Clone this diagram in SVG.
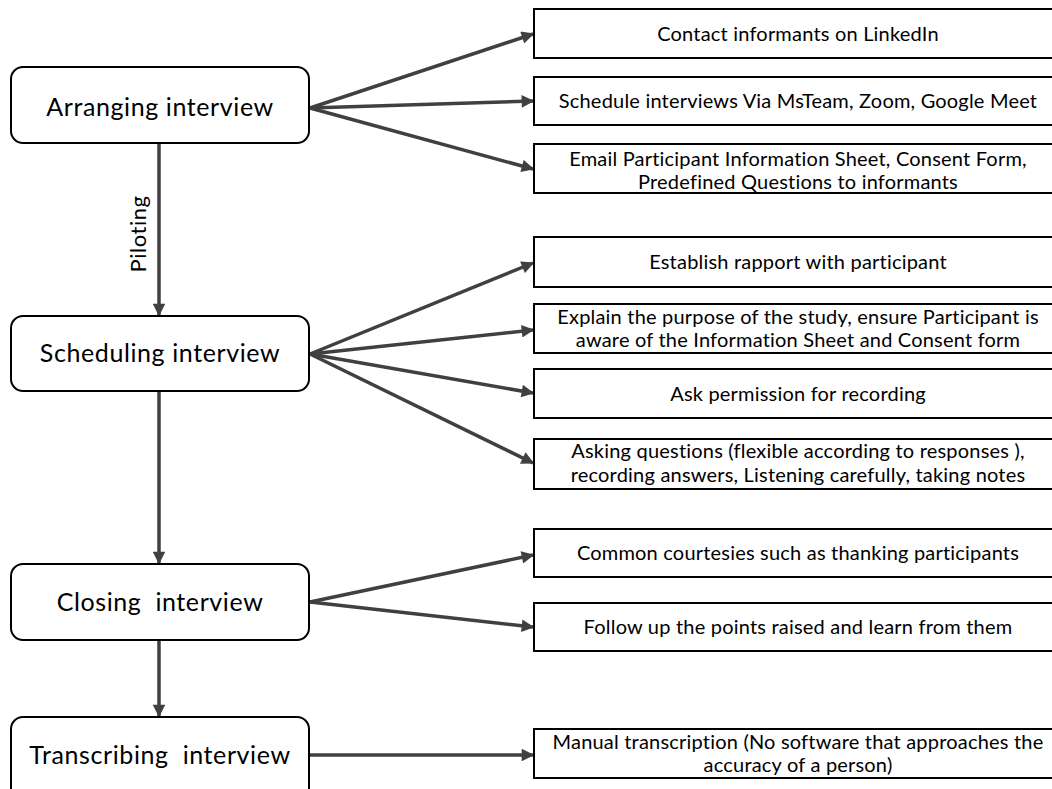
<svg xmlns="http://www.w3.org/2000/svg" width="1052" height="789" viewBox="0 0 1052 789">
<defs>
<style>
.main{fill:#fff;stroke:#000;stroke-width:2}
.sub{fill:#fff;stroke:#000;stroke-width:2}
.t{font-family:Lato,"Liberation Sans",sans-serif;fill:#000;text-anchor:middle}
.big{font-size:25px;letter-spacing:0.6px}
.sm{font-size:20px;letter-spacing:0.2px}
.c{stroke:#404040;stroke-width:3.5;fill:none;marker-end:url(#ah)}
</style>
<marker id="ah" viewBox="0 0 10 10" refX="9" refY="5" markerWidth="4" markerHeight="3.6" orient="auto" markerUnits="strokeWidth">
<path d="M0,0 L10,5 L0,10 z" fill="#404040"/>
</marker>
</defs>
<rect width="1052" height="789" fill="#fff"/>
<g id="connectors">
<line class="c" x1="159" y1="142" x2="159" y2="315"/>
<line class="c" x1="159" y1="391" x2="159" y2="563"/>
<line class="c" x1="159" y1="640" x2="159" y2="716"/>
<line class="c" x1="310" y1="108" x2="533" y2="34"/>
<line class="c" x1="310" y1="108" x2="533" y2="101"/>
<line class="c" x1="310" y1="108" x2="533" y2="169"/>
<line class="c" x1="310" y1="354" x2="533" y2="263"/>
<line class="c" x1="310" y1="354" x2="533" y2="330"/>
<line class="c" x1="310" y1="354" x2="533" y2="393"/>
<line class="c" x1="310" y1="354" x2="533" y2="463"/>
<line class="c" x1="310" y1="602" x2="533" y2="555"/>
<line class="c" x1="310" y1="602" x2="533" y2="627"/>
<line class="c" x1="310" y1="755" x2="533" y2="755"/>
<text class="t" font-size="22" letter-spacing="0.5" transform="translate(146,234) rotate(-90)" font-family="Lato,'Liberation Sans',sans-serif">Piloting</text>
</g>
<g id="arranging"><rect class="main" x="11" y="67" width="298" height="76" rx="12"/><text class="t big" x="160" y="116">Arranging interview</text></g>
<g id="scheduling"><rect class="main" x="11" y="316" width="298" height="75" rx="12"/><text class="t big" x="160" y="362">Scheduling interview</text></g>
<g id="closing"><rect class="main" x="11" y="564" width="298" height="76" rx="12"/><text class="t big" x="160" y="611" xml:space="preserve">Closing  interview</text></g>
<g id="transcribing"><rect class="main" x="11" y="717" width="298" height="90" rx="12"/><text class="t big" x="160" y="764" xml:space="preserve">Transcribing  interview</text></g>
<g id="b1"><rect class="sub" x="534" y="9" width="540" height="49"/><text class="t sm" x="798" y="41">Contact informants on LinkedIn</text></g>
<g id="b2"><rect class="sub" x="534" y="77" width="540" height="48"/><text class="t sm" x="798" y="108">Schedule interviews Via MsTeam, Zoom, Google Meet</text></g>
<g id="b3"><rect class="sub" x="534" y="144" width="540" height="49"/><text class="t sm" x="798" y="166">Email Participant Information Sheet, Consent Form,</text><text class="t sm" x="798" y="189">Predefined Questions to informants</text></g>
<g id="b4"><rect class="sub" x="534" y="237" width="540" height="50"/><text class="t sm" x="798" y="269">Establish rapport with participant</text></g>
<g id="b5"><rect class="sub" x="534" y="304" width="540" height="49"/><text class="t sm" x="798" y="324">Explain the purpose of the study, ensure Participant is</text><text class="t sm" x="798" y="347">aware of the Information Sheet and Consent form</text></g>
<g id="b6"><rect class="sub" x="534" y="369" width="540" height="49"/><text class="t sm" x="798" y="401">Ask permission for recording</text></g>
<g id="b7"><rect class="sub" x="534" y="439" width="540" height="50"/><text class="t sm" x="798" y="458">Asking questions (flexible according to responses ),</text><text class="t sm" x="798" y="482">recording answers, Listening carefully, taking notes</text></g>
<g id="b8"><rect class="sub" x="534" y="529" width="540" height="48"/><text class="t sm" x="798" y="560">Common courtesies such as thanking participants</text></g>
<g id="b9"><rect class="sub" x="534" y="603" width="540" height="48"/><text class="t sm" x="798" y="634">Follow up the points raised and learn from them</text></g>
<g id="b10"><rect class="sub" x="534" y="729" width="540" height="49"/><text class="t sm" x="798" y="749">Manual transcription (No software that approaches the</text><text class="t sm" x="798" y="772">accuracy of a person)</text></g>
</svg>
